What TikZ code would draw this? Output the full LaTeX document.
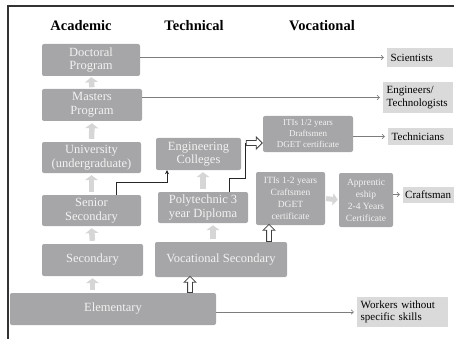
\documentclass[tikz,border=0pt]{standalone}
\usepackage{fontspec}
\setmainfont{Liberation Serif}
\usetikzlibrary{arrows.meta,shapes.arrows}
\definecolor{boxgray}{RGB}{166,166,168}
\definecolor{tagfill}{RGB}{218,218,218}
\definecolor{liftgray}{RGB}{214,214,214}
\definecolor{rulegray}{RGB}{125,125,125}
\begin{document}
\begin{tikzpicture}[x=1pt, y=-1pt,
    stage/.style={rectangle, rounded corners=2pt, fill=boxgray, text=white!90!gray, align=center, inner sep=1pt, font=\fontsize{12.5}{13.5}\selectfont},
    fine/.style={font=\fontsize{9.5}{12}\selectfont},
    outcome/.style={rectangle, fill=tagfill, align=left, inner xsep=3.5pt, inner ysep=2pt, font=\fontsize{11}{12.5}\selectfont, text=black, anchor=west},
    head/.style={font=\fontsize{14.5}{16}\selectfont\bfseries},
    lift/.style={line width=5.5pt, draw=liftgray, -{Triangle[length=5pt,width=13pt]}, shorten <=3pt, shorten >=2pt},
    hollow/.style={single arrow, draw=black!75, fill=white, line width=0.8pt, inner sep=2pt, single arrow head extend=3.5pt, minimum height=#1},
    route/.style={draw=black!85, line width=0.8pt},
    toward/.style={draw=rulegray, line width=0.6pt, -{Straight Barb[length=2.5pt,width=4.5pt]}, shorten >=3pt}
  ]
    \useasboundingbox (0,0) rectangle (454,339);
    % Frame
    \draw[black!80, line width=1.2pt] (8,339) -- (8,6) -- (454,6);
    % Column heads
    \node[head] (hacad) at (81,26) {Academic};
    \node[head] (htech) at (194,26) {Technical};
    \node[head] (hvoc) at (322,26) {Vocational};
    % Academic column
    \node[stage, minimum width=98pt, minimum height=32pt] (doc) at (91,60) {Doctoral\\Program};
    \node[stage, minimum width=100pt, minimum height=32pt] (mas) at (92,105) {Masters\\Program};
    \node[stage, minimum width=99pt, minimum height=31pt] (uni) at (91.5,157.5) {University\\(undergraduate)};
    \node[stage, minimum width=99pt, minimum height=31pt] (sen) at (91.5,210.5) {Senior\\Secondary};
    \node[stage, minimum width=101pt, minimum height=32pt] (sec) at (92.5,260) {Secondary};
    \node[stage, minimum width=206pt, minimum height=32pt] (ele) at (113,309) {Elementary};
    % Technical column
    \node[stage, minimum width=85pt, minimum height=32pt] (eng) at (198.5,154) {Engineering\\Colleges};
    \node[stage, minimum width=90pt, minimum height=31pt] (poly) at (203,207.5) {Polytechnic 3\\year Diploma};
    \node[stage, minimum width=132pt, minimum height=35pt] (voc) at (221,259.5) {Vocational Secondary};
    % Vocational column
    \node[stage, fine, font=\fontsize{9}{11}\selectfont, minimum width=90pt, minimum height=36pt] (itia) at (308,134) {ITIs 1/2 years\\Draftsmen\\DGET certificate};
    \node[stage, fine, minimum width=69pt, minimum height=53pt] (itib) at (290.5,198.5) {ITIs 1-2 years\\Craftsmen\\DGET\\certificate};
    \node[stage, fine, minimum width=54pt, minimum height=54pt] (app) at (366,200) {Apprentic\\eship\\2-4 Years\\Certificate};
    % Outcomes
    \node[outcome, text width=59pt, minimum height=19pt] (sci) at (387,57.5) {Scientists};
    \node[outcome, text width=63pt, minimum height=31pt] (engr) at (383,97.5) {Engineers/\\Technologists};
    \node[outcome, text width=58pt, minimum height=17pt] (tech) at (388,136.5) {Technicians};
    \node[outcome, inner xsep=2pt, text width=47pt, minimum height=16pt] (craft) at (403,194.5) {Craftsman};
    \node[outcome, text width=84pt, minimum height=30pt] (work) at (357,312) {Workers without\\specific skills};
    % Progression arrows
    \draw[lift, shorten <=1.5pt, shorten >=1pt] (mas.north) -- (doc.south);
    \draw[lift] (uni.north) -- (mas.south);
    \draw[lift] (sen.north) -- (uni.south);
    \draw[lift] (sec.north) -- (sen.south);
    \draw[lift] (ele.north -| sec.south) -- (sec.south);
    \draw[lift] (poly.north) -- (poly.north |- eng.south);
    \draw[lift] ([xshift=-8pt]voc.north) -- ([xshift=-8pt]voc.north |- poly.south);
    \draw[lift, line width=5pt, -{Triangle[length=5pt,width=12pt]}, shorten <=1pt, shorten >=1pt] (itib.east) -- (app.west);
    % Hollow arrows
    \node[hollow=16pt, shape border rotate=90, anchor=tail] (upa) at ([xshift=77pt]ele.north) {};
    \node[hollow=17pt, shape border rotate=90, anchor=tail] (upb) at ([xshift=48pt]voc.north) {};
    \node[hollow=16pt, anchor=tip] (rta) at ([yshift=-9pt]itia.west) {};
    % Routes
    \draw[route, -{Stealth[length=4pt,width=4pt]}] ([xshift=25pt]sen.north) -- ++(0,-12) -| ([xshift=-31.5pt]eng.south);
    \draw[route] ([xshift=26pt]poly.north) -- ++(0,-13) -| (rta.tail);
    % To outcomes
    \draw[toward] (doc.east |- sci.west) -- (sci.west);
    \draw[toward] (mas.east |- engr.west) -- (engr.west);
    \draw[toward] (itia.east |- tech.west) -- (tech.west);
    \draw[toward] (app.east |- craft.west) -- (craft.west);
    \draw[toward] (ele.east |- work.west) -- (work.west);
\end{tikzpicture}
\end{document}
